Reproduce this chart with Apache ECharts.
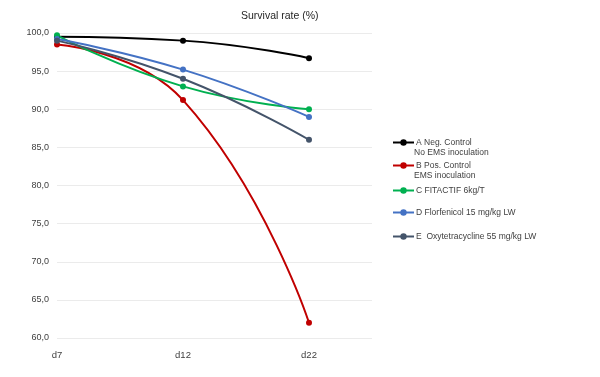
<!DOCTYPE html>
<html>
<head>
<meta charset="utf-8">
<script src="https://cdn.jsdelivr.net/npm/echarts@6/dist/echarts.min.js"></script>
<style>
  html, body { margin: 0; padding: 0; background: #fff; }
  #main { width: 600px; height: 377px; }
</style>
</head>
<body>
<div id="main"></div>
<script>
var days = ['d7', 'd12', 'd22'];
var names = [
    'A Neg. Control\nNo EMS inoculation',
    'B Pos. Control\nEMS inoculation',
    'C FITACTIF 6kg/T',
    'D Florfenicol 15 mg/kg LW',
    'E  Oxytetracycline 55 mg/kg LW'
];
var groupA = [99.5, 99.0, 96.7];
var groupB = [98.5, 91.2, 62.0];
var groupC = [99.7, 93.0, 90.0];
var groupD = [99.2, 95.2, 89.0];
var groupE = [99.0, 94.0, 86.0];
var colors = ['#000000', '#c00000', '#00b050', '#4472c4', '#44546a'];

window.onload = function() {
    var myChart = echarts.init(document.getElementById('main'));
    var values = [groupA, groupB, groupC, groupD, groupE];
    var legendTops = [133, 156, 181, 203, 227];
    var font = 'Liberation Sans, Arial, sans-serif';

    var series = [];
    var legends = [];
    var extraLines = [];
    values.forEach(function(vals, i) {
        series.push({
            name: names[i],
            type: 'line',
            smooth: true,
            symbol: 'circle',
            symbolSize: 6,
            lineStyle: { width: 2, color: colors[i] },
            itemStyle: { color: colors[i] },
            data: vals.map(function(v, j) { return [j, v]; })
        });
        legends.push({
            data: [names[i]],
            left: 387,
            top: legendTops[i],
            itemWidth: 21,
            itemHeight: 8,
            itemGap: 0,
            formatter: function(n) { return n.split('\n')[0]; },
            textStyle: {
                fontSize: 8.5,
                color: '#404040',
                fontFamily: font,
                padding: [0, 0, 0, -3]
            }
        });
        // second line of the two-line legend entries
        var parts = names[i].split('\n');
        if (parts.length > 1) {
            extraLines.push({
                type: 'text',
                left: 414,
                top: legendTops[i] + 15,
                style: {
                    text: parts[1],
                    fontSize: 8.5,
                    fill: '#404040',
                    fontFamily: font
                }
            });
        }
    });

    var option = {
        animation: false,
        title: {
            text: 'Survival rate (%)',
            left: 236,
            top: 6,
            textStyle: {
                fontSize: 10.5,
                fontWeight: 'normal',
                color: '#262626',
                fontFamily: font
            }
        },
        legend: legends,
        graphic: extraLines,
        grid: { left: 57, right: 228, top: 33, bottom: 39 },
        xAxis: {
            type: 'value',
            min: 0,
            max: 2.5,
            interval: 1,
            axisLine: { show: false },
            axisTick: { show: false },
            splitLine: { show: false },
            axisLabel: {
                showMaxLabel: false,
                margin: 12,
                fontSize: 9.5,
                color: '#404040',
                fontFamily: font,
                formatter: function(v) { return days[v] || ''; }
            }
        },
        yAxis: {
            type: 'value',
            min: 60,
            max: 100,
            interval: 5,
            axisLine: { show: false },
            axisTick: { show: false },
            splitLine: { lineStyle: { color: '#ebebeb', width: 1 } },
            axisLabel: {
                margin: 8,
                fontSize: 9,
                color: '#404040',
                fontFamily: font,
                formatter: function(v) { return v.toFixed(1).replace('.', ','); }
            }
        },
        series: series
    };

    myChart.setOption(option);
};
</script>
</body>
</html>
